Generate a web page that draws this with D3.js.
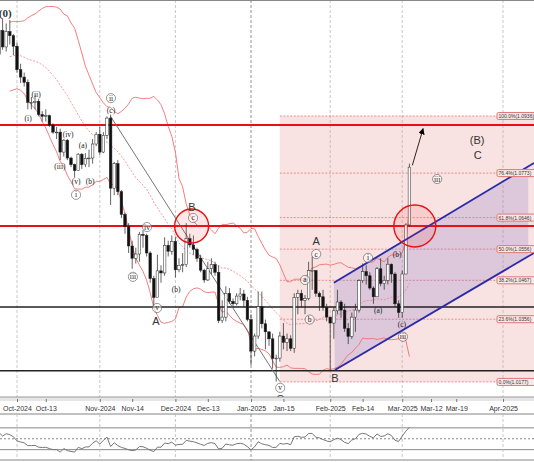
<!DOCTYPE html>
<html><head><meta charset="utf-8">
<script src="https://cdn.jsdelivr.net/npm/d3@7"></script>
<style>body{margin:0;background:#fff}svg{display:block}</style>
</head><body><svg id="c" width="534" height="462"></svg>
<script>
// daily EURUSD candles, first value = 2 Sep 2024 (index -21), 1 Oct 2024 = index 0
const firstIndex = -21
const closes = [1.1073,1.1045,1.1080,1.1112,1.1085,1.1040,1.1035,1.1013,1.1075,1.1075,1.1133,1.1130,1.1117,1.1160,1.1163,1.1112,1.1180,1.1133,1.1177,1.1165,1.1135,
  1.1068,1.1047,1.1032,1.0975,1.0975,1.0978,1.0940,1.0935,1.0937,1.0910,1.0890,1.0890,1.0833,1.0867,1.0816,1.0797,1.0780,1.0827,1.0797,1.0815,1.0816,1.0856,1.0884,
  1.0833,1.0881,1.0930,1.0730,1.0800,1.0720,1.0655,1.0620,1.0565,1.0530,1.0542,1.0598,1.0595,1.0545,1.0472,1.0418,1.0494,1.0488,1.0567,1.0550,1.0578,
  1.0497,1.0510,1.0512,1.0586,1.0568,1.0555,1.0530,1.0496,1.0468,1.0500,1.0512,1.0490,1.0352,1.0362,1.0430,1.0407,1.0400,1.0422,1.0428,1.0410,1.0355,
  1.0265,1.0308,1.0392,1.0343,1.0320,1.0300,1.0244,1.0245,1.0308,1.0290,1.0300,1.0273,1.0418,1.0430,1.0410,1.0415,1.0495,1.0495,1.0430,1.0420,1.0390,1.0362,
  1.0345,1.0380,1.0405,1.0382,1.0330,1.0307,1.0362,1.0382,1.0466,1.0492,1.0480,1.0445,1.0420,1.0500,1.0458,1.0467,1.0513,1.0485,1.0400,1.0375,
  1.0485,1.0625,1.0790]
const highs = [1.1090,1.1080,1.1090,1.1120,1.1155,1.1090,1.1060,1.1055,1.1085,1.1095,1.1140,1.1145,1.1190,1.1180,1.1180,1.1170,1.1190,1.1215,1.1200,1.1210,1.1170,
  1.1145,1.1085,1.1060,1.1040,1.0990,1.0995,1.0985,1.0950,1.0955,1.0940,1.0915,1.0905,1.0900,1.0870,1.0870,1.0820,1.0800,1.0830,1.0830,1.0830,1.0840,1.0870,1.0890,
  1.0905,1.0890,1.0935,1.0940,1.0805,1.0810,1.0725,1.0660,1.0630,1.0580,1.0560,1.0605,1.0610,1.0600,1.0550,1.0480,1.0540,1.0510,1.0590,1.0580,1.0595,
  1.0590,1.0530,1.0545,1.0630,1.0600,1.0595,1.0560,1.0540,1.0500,1.0520,1.0530,1.0520,1.0510,1.0410,1.0450,1.0445,1.0415,1.0430,1.0445,1.0440,1.0420,
  1.0370,1.0315,1.0435,1.0435,1.0355,1.0320,1.0315,1.0255,1.0320,1.0345,1.0315,1.0310,1.0430,1.0440,1.0440,1.0425,1.0520,1.0535,1.0495,1.0435,1.0440,1.0400,
  1.0355,1.0390,1.0440,1.0410,1.0400,1.0345,1.0375,1.0400,1.0470,1.0515,1.0510,1.0490,1.0450,1.0505,1.0530,1.0480,1.0530,1.0515,1.0490,1.0410,
  1.0495,1.0630,1.0800]
const lows = [1.1040,1.1030,1.1035,1.1070,1.1080,1.1030,1.1020,1.1000,1.1010,1.1060,1.1070,1.1110,1.1080,1.1110,1.1140,1.1090,1.1105,1.1125,1.1120,1.1140,1.1110,
  1.1060,1.1030,1.1020,1.0955,1.0955,1.0955,1.0935,1.0920,1.0920,1.0905,1.0885,1.0870,1.0810,1.0820,1.0810,1.0790,1.0760,1.0780,1.0785,1.0790,1.0790,1.0800,1.0850,
  1.0825,1.0830,1.0870,1.0682,1.0710,1.0710,1.0645,1.0600,1.0545,1.0500,1.0515,1.0520,1.0560,1.0535,1.0460,1.0390,1.0420,1.0460,1.0480,1.0535,1.0540,
  1.0475,1.0490,1.0490,1.0505,1.0560,1.0540,1.0520,1.0490,1.0460,1.0465,1.0485,1.0480,1.0345,1.0345,1.0350,1.0400,1.0390,1.0395,1.0410,1.0390,1.0350,
  1.0225,1.0250,1.0300,1.0330,1.0270,1.0280,1.0215,1.0178,1.0235,1.0270,1.0265,1.0265,1.0260,1.0370,1.0390,1.0370,1.0410,1.0440,1.0420,1.0380,1.0380,1.0350,
  1.0210,1.0300,1.0370,1.0360,1.0320,1.0285,1.0300,1.0320,1.0375,1.0460,1.0455,1.0440,1.0400,1.0420,1.0450,1.0440,1.0455,1.0460,1.0390,1.0360,
  1.0360,1.0485,1.0620]
const firstOpen = 1.1048

const tickIndex = [0, 8, 23, 32, 44, 53, 65, 74, 87, 96, 107, 115, 122, 135]
const tickLabels = ["Oct-2024","Oct-13","Nov-2024","Nov-14","Dec-2024","Dec-13","Jan-2025","Jan-15","Feb-2025","Feb-14","Mar-2025","Mar-12","Mar-19","Apr-2025"]
const monthTicks = [0, 23, 44, 65, 87, 107, 135]

const fibPct = ["0.0%","23.6%","38.2%","50.0%","61.8%","76.4%","100.0%"]
const fibPrice = [1.0177,1.0356,1.0467,1.0556,1.0646,1.0773,1.0936]
const redLevels = [1.0910, 1.0622]
const blackLevels = [1.0391, 1.0209]

// wave labels: text, index, price, kind (c = circled, p = plain paren, B = big letter, b = bold)
const waveText  = ["(0)","(ii)","(i)","(iv)","(a)","(iii)","(v)","i","(b)","ii","(c)","B","c","iv","iii","(b)","v","A","v","C","A","c","a","b","i","(b)","(a)","(c)","iii","B","(B)","C","iii"]
const waveIdx   = [-3.3,5.3,3.1,14.2,18.3,11.9,16.4,16.4,20.3,26.1,26.1,48.6,48.9,36.1,32.2,44.2,38.9,38.6,73.1,73.1,83.1,83.1,80,81.3,97.5,105.6,100.3,106.9,107.2,88.3,127.8,128,116.7]
const wavePrice = [1.1227,1.0996,1.0930,1.0882,1.0853,1.0791,1.0748,1.0711,1.0748,1.0987,1.0953,1.0676,1.0645,1.0619,1.0477,1.0440,1.0388,1.0351,1.0160,1.0129,1.0579,1.0542,1.0468,1.0355,1.0531,1.0542,1.0380,1.0340,1.0306,1.0189,1.0868,1.0825,1.0756]
const waveKind  = ["b","p","p","p","p","p","p","c","p","c","p","B","c","c","c","p","c","B","c","B","B","c","c","c","c","p","p","p","c","B","B","B","c"]

const svg = d3.select("#c")
const W = 534, plotH = 397
const x = d3.scaleLinear().domain([0, 143.6]).range([17, 534])
const y = d3.scaleLinear().domain([1.0134, 1.1267]).range([plotH, 0])

const bars = closes.map((c, i) => ({
  i: firstIndex + i, o: i ? closes[i - 1] : firstOpen, h: highs[i], l: lows[i], c
}))

// bollinger 20,2
const bb = []
for (let k = 19; k < closes.length; k++) {
  const w = closes.slice(k - 19, k + 1), m = d3.mean(w), s = d3.deviation(w) * Math.sqrt(19 / 20)
  bb.push({ i: firstIndex + k, m, u: m + 2 * s, d: m - 2 * s })
}
// rsi 14
const rsi = []
let ag = 0, al = 0
for (let k = 1; k < closes.length; k++) {
  const ch = closes[k] - closes[k - 1], g = Math.max(ch, 0), lo = Math.max(-ch, 0)
  if (k <= 14) { ag += g / 14; al += lo / 14 } else { ag = (ag * 13 + g) / 14; al = (al * 13 + lo) / 14 }
  if (k >= 14) rsi.push({ i: firstIndex + k, v: 100 - 100 / (1 + ag / al) })
}

svg.append("defs").html(`<clipPath id="pc"><rect x="0" y="0" width="${W}" height="${plotH}"/></clipPath>
<marker id="ar" viewBox="0 0 10 10" refX="9" refY="5" markerWidth="7" markerHeight="7" orient="auto"><path d="M0,0L10,5L0,10z" fill="#000"/></marker>`)
const g = svg.append("g").attr("clip-path", "url(#pc)")

// grid
g.selectAll(".vg").data(monthTicks).join("line")
  .attr("x1", d => x(d)).attr("x2", d => x(d)).attr("y1", 0).attr("y2", plotH)
  .attr("stroke", d => d == 65 ? "#777" : "#bbb").attr("stroke-dasharray", "3,2").attr("stroke-width", 0.8)

// fib box
const fx0 = 73
g.append("rect").attr("x", x(fx0)).attr("y", y(fibPrice[6])).attr("width", W - x(fx0))
  .attr("height", y(fibPrice[0]) - y(fibPrice[6])).attr("fill", "rgba(235,150,150,0.28)")
g.selectAll(".fl").data(fibPrice).join("line")
  .attr("x1", x(fx0)).attr("x2", 497).attr("y1", d => y(d)).attr("y2", d => y(d))
  .attr("stroke", "#e05555").attr("stroke-width", 0.6).attr("stroke-dasharray", "2,1.5")

// channel
const up = [[88, 1.0460], [143.6, 1.0802]], dn = [[88.3, 1.0211], [143.6, 1.0545]]
const lerp = (ln, t) => ln[0][1] + (ln[1][1] - ln[0][1]) * (t - ln[0][0]) / (ln[1][0] - ln[0][0])
const cEnd = 142
g.append("path").attr("fill", "rgba(120,110,190,0.22)")
  .attr("d", d3.line()([[x(88), y(lerp(up, 88))], [x(cEnd), y(lerp(up, cEnd))], [x(cEnd), y(lerp(dn, cEnd))], [x(88.3), y(dn[0][1])]]))

// bands
const bandLine = k => d3.line().x(d => x(d.i)).y(d => y(d[k]))
g.append("path").datum(bb).attr("d", bandLine("u")).attr("fill", "none").attr("stroke", "#f07070").attr("stroke-width", 0.9)
g.append("path").datum(bb).attr("d", bandLine("d")).attr("fill", "none").attr("stroke", "#f07070").attr("stroke-width", 0.9)
g.append("path").datum(bb).attr("d", bandLine("m")).attr("fill", "none").attr("stroke", "#f08080").attr("stroke-width", 0.8).attr("stroke-dasharray", "2,1.5")

// horizontal levels
g.selectAll(".rl").data(redLevels).join("line").attr("x1", 0).attr("x2", W)
  .attr("y1", d => y(d)).attr("y2", d => y(d)).attr("stroke", "#e81010").attr("stroke-width", 2)
g.selectAll(".bl").data(blackLevels).join("line").attr("x1", 0).attr("x2", W)
  .attr("y1", d => y(d)).attr("y2", d => y(d)).attr("stroke", "#222").attr("stroke-width", 1.6)

// diagonal from (ii) high to C low
g.append("line").attr("x1", x(26)).attr("y1", y(1.0935)).attr("x2", x(73)).attr("y2", y(1.0178))
  .attr("stroke", "#666").attr("stroke-width", 0.9)

// candles
const bw = 2.6
const cg = g.append("g").selectAll("g").data(bars).join("g")
cg.append("line").attr("x1", d => x(d.i)).attr("x2", d => x(d.i)).attr("y1", d => y(d.h)).attr("y2", d => y(d.l))
  .attr("stroke", "#222").attr("stroke-width", 0.7)
cg.append("rect").attr("x", d => x(d.i) - bw / 2).attr("width", bw)
  .attr("y", d => y(Math.max(d.o, d.c))).attr("height", d => Math.max(0.8, Math.abs(y(d.o) - y(d.c))))
  .attr("fill", d => d.c >= d.o ? "#fff" : "#111").attr("stroke", "#222").attr("stroke-width", 0.5)

// channel lines on top
;[up, dn].forEach(ln => g.append("line").attr("x1", x(ln[0][0])).attr("y1", y(ln[0][1]))
  .attr("x2", x(ln[1][0])).attr("y2", y(ln[1][1])).attr("stroke", "#2a2aa8").attr("stroke-width", 1.8))

// circles
;[[48.5, 17], [110.5, 21]].forEach(([i, r]) => g.append("circle").attr("cx", x(i)).attr("cy", y(1.0622)).attr("r", r)
  .attr("fill", "rgba(255,60,60,0.12)").attr("stroke", "#e81010").attr("stroke-width", 1.4))

// arrow
g.append("line").attr("x1", x(109.8)).attr("y1", y(1.0795)).attr("x2", x(112.8)).attr("y2", y(1.0900))
  .attr("stroke", "#111").attr("stroke-width", 0.9).attr("marker-end", "url(#ar)")

// fib labels
const fl = g.selectAll(".ft").data(fibPrice).join("g").attr("transform", d => `translate(497,${y(d)})`)
fl.append("rect").attr("x", 0).attr("y", -3.5).attr("width", 40).attr("height", 7).attr("rx", 1.5)
  .attr("fill", "#fbe9e9").attr("stroke", "#d77")
fl.append("text").attr("x", 1.5).attr("y", 2.1).attr("font-size", 5).attr("font-family", "Liberation Sans, Arial")
  .attr("fill", "#333").text((d, k) => `${fibPct[k]}(${d.toFixed(4)})`)

// wave labels
const wl = g.selectAll(".wl").data(waveText.map((t, k) => ({ t, i: waveIdx[k], p: wavePrice[k], kind: waveKind[k] })))
  .join("g").attr("transform", d => `translate(${x(d.i)},${y(d.p)})`)
wl.filter(d => d.kind == "c").append("circle").attr("r", 4.6).attr("fill", "rgba(255,255,255,0.5)").attr("stroke", "#555").attr("stroke-width", 0.6)
wl.append("text").attr("text-anchor", "middle").attr("dy", d => d.kind == "B" ? 4 : 2.5)
  .attr("font-family", d => d.kind == "B" ? "Liberation Sans, Arial" : "Liberation Serif, Times New Roman")
  .attr("font-size", d => d.kind == "B" || d.kind == "b" ? 11 : 7.5)
  .attr("font-weight", d => d.kind == "b" ? "bold" : "normal")
  .attr("fill", d => d.kind == "B" || d.kind == "b" ? "#333" : "#222").text(d => d.t)

// axis strip
svg.append("rect").attr("x", 0).attr("y", plotH).attr("width", W).attr("height", 4).attr("fill", "#e6e6e6")
svg.append("line").attr("x1", 0).attr("x2", W).attr("y1", plotH).attr("y2", plotH).attr("stroke", "#999")
svg.append("line").attr("x1", 0).attr("x2", W).attr("y1", 0.5).attr("y2", 0.5).attr("stroke", "#888")
const ax = svg.append("g").attr("transform", `translate(0,${plotH + 15})`)
  .call(d3.axisTop(x).tickValues(tickIndex).tickFormat((d, k) => tickLabels[k]).tickSize(3).tickPadding(3))
ax.select(".domain").remove()
ax.selectAll("text").attr("y", 0).attr("dy", "-0.2em").attr("font-size", 7).attr("font-family", "Liberation Sans, Arial").attr("fill", "#333")
ax.selectAll(".tick line").attr("y2", -10).attr("y1", -13).attr("stroke", "#777")

// indicator panel
const py = d3.scaleLinear().domain([0, 100]).range([466, 411.5])
svg.append("g").selectAll("line").data([1, 2]).join("line").attr("x1", 0).attr("x2", W)
  .attr("y1", d => d == 1 ? 414 : 460).attr("y2", d => d == 1 ? 414 : 460).attr("stroke", "#666").attr("stroke-width", 0.8)
svg.append("g").selectAll("line").data([30, 50, 70]).join("line").attr("x1", 0).attr("x2", W)
  .attr("y1", d => py(d)).attr("y2", d => py(d)).attr("stroke", "#555").attr("stroke-width", 0.7)
  .attr("stroke-dasharray", d => d == 50 ? "2,2" : null)
svg.append("g").selectAll("line").data(monthTicks).join("line").attr("x1", d => x(d)).attr("x2", d => x(d))
  .attr("y1", 414).attr("y2", 460).attr("stroke", d => d == 65 ? "#777" : "#bbb").attr("stroke-dasharray", "3,2").attr("stroke-width", 0.8)
svg.append("path").datum(rsi).attr("fill", "none").attr("stroke", "#777").attr("stroke-width", 1)
  .attr("d", d3.line().x(d => x(d.i)).y(d => py(d.v)))
</script></body></html>
